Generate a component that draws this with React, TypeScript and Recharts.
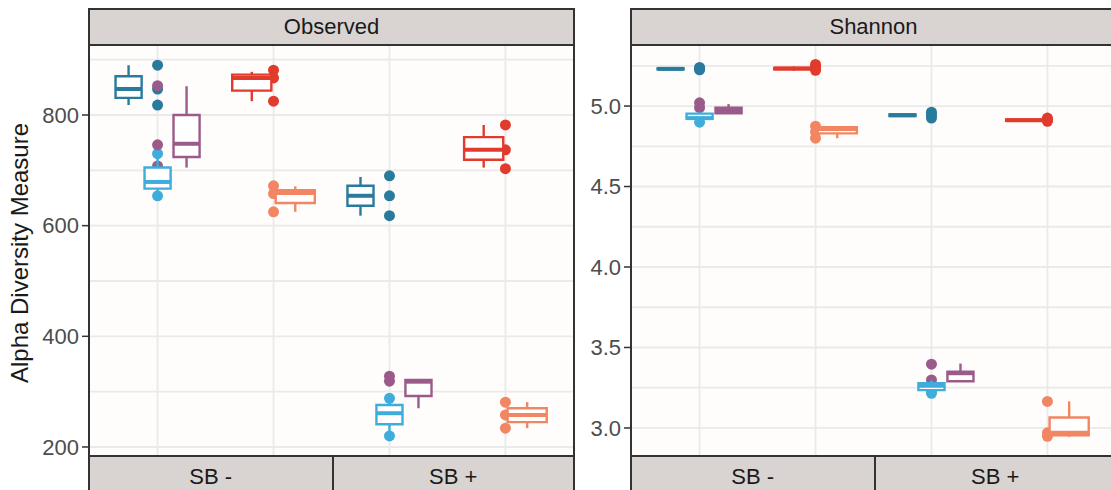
import React from 'react';
import {
  ComposedChart, Scatter, XAxis, YAxis, CartesianGrid, ReferenceArea, ReferenceLine
} from 'recharts';

const FONT = '"Liberation Sans", Arial, Helvetica, sans-serif';

// x categories of each panel (SB - has two, SB + has two)
const xCats = ['SB - 1', 'SB - 2', 'SB + 1', 'SB + 2'];
// which groups are dodged inside every category, left to right
const catGroups = [['A', 'B', 'C'], ['D', 'E'], ['A', 'B', 'C'], ['D', 'E']];
const groupKeys = ['A', 'B', 'C', 'D', 'E'];

const COLORS: Record<string, string> = {
  A: '#287b9d',
  B: '#3faddc',
  C: '#9b5b8a',
  D: '#e03b2c',
  E: '#f28663',
};

// [category, group, min, q1, median, q3, max]
const observedBoxes: [string, string, number, number, number, number, number][] = [
  ['SB - 1', 'A', 818, 831, 847, 870, 890],
  ['SB - 1', 'B', 654, 667, 679, 705, 730],
  ['SB - 1', 'C', 705, 724, 748, 800, 852],
  ['SB - 2', 'D', 825, 844, 867, 873, 878],
  ['SB - 2', 'E', 625, 641, 659, 664, 671],
  ['SB + 1', 'A', 618, 636, 654, 672, 688],
  ['SB + 1', 'B', 220, 241, 261, 276, 288],
  ['SB + 1', 'C', 270, 292, 318, 321, 323],
  ['SB + 2', 'D', 705, 719, 737, 760, 782],
  ['SB + 2', 'E', 234, 245, 258, 270, 281],
];

// [category, group, value]
const observedPoints: [string, string, number][] = [
  ['SB - 1', 'A', 890], ['SB - 1', 'A', 847], ['SB - 1', 'A', 818],
  ['SB - 1', 'B', 730], ['SB - 1', 'B', 654],
  ['SB - 1', 'C', 853], ['SB - 1', 'C', 746], ['SB - 1', 'C', 708],
  ['SB - 2', 'D', 881], ['SB - 2', 'D', 867], ['SB - 2', 'D', 825],
  ['SB - 2', 'E', 672], ['SB - 2', 'E', 658], ['SB - 2', 'E', 625],
  ['SB + 1', 'A', 690], ['SB + 1', 'A', 654], ['SB + 1', 'A', 618],
  ['SB + 1', 'B', 288], ['SB + 1', 'B', 220],
  ['SB + 1', 'C', 328], ['SB + 1', 'C', 319],
  ['SB + 2', 'D', 782], ['SB + 2', 'D', 737], ['SB + 2', 'D', 703],
  ['SB + 2', 'E', 281], ['SB + 2', 'E', 258], ['SB + 2', 'E', 234],
];

const shannonBoxes: [string, string, number, number, number, number, number][] = [
  ['SB - 1', 'A', 5.225, 5.228, 5.231, 5.234, 5.237],
  ['SB - 1', 'B', 4.895, 4.92, 4.925, 4.953, 4.96],
  ['SB - 1', 'C', 4.95, 4.955, 4.975, 4.99, 5.012],
  ['SB - 2', 'D', 5.22, 5.229, 5.233, 5.237, 5.245],
  ['SB - 2', 'E', 4.80, 4.83, 4.857, 4.868, 4.87],
  ['SB + 1', 'A', 4.935, 4.938, 4.943, 4.948, 4.95],
  ['SB + 1', 'B', 3.215, 3.235, 3.262, 3.278, 3.295],
  ['SB + 1', 'C', 3.288, 3.29, 3.34, 3.35, 3.40],
  ['SB + 2', 'D', 4.905, 4.908, 4.912, 4.916, 4.92],
  ['SB + 2', 'E', 2.945, 2.955, 2.97, 3.065, 3.165],
];

const shannonPoints: [string, string, number][] = [
  ['SB - 1', 'A', 5.24], ['SB - 1', 'A', 5.232], ['SB - 1', 'A', 5.225],
  ['SB - 1', 'B', 4.90],
  ['SB - 1', 'C', 5.02], ['SB - 1', 'C', 4.99],
  ['SB - 2', 'D', 5.258], ['SB - 2', 'D', 5.24], ['SB - 2', 'D', 5.222],
  ['SB - 2', 'E', 4.875], ['SB - 2', 'E', 4.84], ['SB - 2', 'E', 4.80],
  ['SB + 1', 'A', 4.962], ['SB + 1', 'A', 4.943], ['SB + 1', 'A', 4.925],
  ['SB + 1', 'B', 3.225], ['SB + 1', 'B', 3.215],
  ['SB + 1', 'C', 3.396], ['SB + 1', 'C', 3.298],
  ['SB + 2', 'D', 4.925], ['SB + 2', 'D', 4.915], ['SB + 2', 'D', 4.905],
  ['SB + 2', 'E', 3.165], ['SB + 2', 'E', 2.97], ['SB + 2', 'E', 2.948],
];

const observedTicks = [200, 400, 600, 800];
const observedGrid = [200, 300, 400, 500, 600, 700, 800, 900];
const shannonTicks = [3.0, 3.5, 4.0, 4.5, 5.0];
const shannonGrid = [3.0, 3.25, 3.5, 3.75, 4.0, 4.25, 4.5, 4.75, 5.0, 5.25];

const bottomLabels = ['SB -', 'SB +'];

const PLOT_TOP = 46;
const PLOT_H = 409;
const PLOT_W = 487;
const MT = 10;

function toBoxes(rows: [string, string, number, number, number, number, number][]) {
  return rows.map(([cat, grp, min, q1, med, q3, max]) => {
    const ci = xCats.indexOf(cat);
    const members = catGroups[ci];
    const k = members.length;
    const slot = 0.75 / k;
    const center = ci + 1 + (members.indexOf(grp) - (k - 1) / 2) * slot;
    const half = (slot * 0.9) / 2;
    return { center, half, min, q1, med, q3, max, color: COLORS[grp] };
  });
}

function toPoints(rows: [string, string, number][], grp: string) {
  return rows
    .filter((r) => r[1] === grp)
    .map(([cat, , v]) => ({ x: xCats.indexOf(cat) + 1, y: v }));
}

interface PanelProps {
  left: number;
  axisWidth: number;
  title: string;
  domain: [number, number];
  ticks: number[];
  grid: number[];
  boxRows: [string, string, number, number, number, number, number][];
  pointRows: [string, string, number][];
  fmt: (v: number) => string;
}

const Panel: React.FC<PanelProps> = ({ left, axisWidth, title, domain, ticks, grid, boxRows, pointRows, fmt }) => {
  const boxes = toBoxes(boxRows);
  const plotLeft = left + axisWidth;
  const refs: React.ReactNode[] = [];
  boxes.forEach((b, i) => {
    refs.push(
      <ReferenceLine key={`wl${i}`} segment={[{ x: b.center, y: b.min }, { x: b.center, y: b.q1 }]}
        stroke={b.color} strokeWidth={2.4} zIndex={700} />
    );
    refs.push(
      <ReferenceLine key={`wh${i}`} segment={[{ x: b.center, y: b.q3 }, { x: b.center, y: b.max }]}
        stroke={b.color} strokeWidth={2.4} zIndex={700} />
    );
    refs.push(
      <ReferenceArea key={`bx${i}`} x1={b.center - b.half} x2={b.center + b.half} y1={b.q1} y2={b.q3}
        fill="#ffffff" fillOpacity={1} stroke={b.color} strokeWidth={2.4} zIndex={710} />
    );
    refs.push(
      <ReferenceLine key={`md${i}`} segment={[{ x: b.center - b.half, y: b.med }, { x: b.center + b.half, y: b.med }]}
        stroke={b.color} strokeWidth={4} zIndex={720} />
    );
  });

  return (
    <>
      <div style={{ position: 'absolute', left, top: PLOT_TOP - MT }}>
        <ComposedChart width={axisWidth + PLOT_W + 1} height={PLOT_H + 2 * MT}
          margin={{ top: MT, right: 1, bottom: MT, left: 0 }}>
          <CartesianGrid stroke="#eaeaea" strokeWidth={1.8} fill="#fefdfc"
            horizontalValues={grid} verticalValues={[1, 2, 3, 4]} />
          <XAxis type="number" dataKey="x" domain={[0.4, 4.6]} hide allowDataOverflow />
          <YAxis type="number" dataKey="y" domain={domain} ticks={ticks} interval={0} allowDataOverflow
            width={axisWidth} axisLine={false} tickSize={6} tickMargin={3}
            tickLine={{ stroke: '#333333', strokeWidth: 1.5 }}
            tick={{ fill: '#4d4d4d', fontSize: 22, fontFamily: FONT }}
            tickFormatter={fmt} />
          {groupKeys.map((g) => (
            <Scatter key={g} data={toPoints(pointRows, g)} dataKey="y" fill={COLORS[g]}
              isAnimationActive={false}
              shape={(p: any) => <circle cx={p.cx} cy={p.cy} r={5.5} fill={COLORS[g]} />} />
          ))}
          {refs}
        </ComposedChart>
      </div>
      {/* top strip */}
      <div style={{
        position: 'absolute', left: plotLeft, top: 8, width: PLOT_W, height: PLOT_TOP - 8,
        boxSizing: 'border-box', background: '#d9d4d1', border: '2px solid #333',
        display: 'flex', alignItems: 'center', justifyContent: 'center',
        fontFamily: FONT, fontSize: 22, color: '#1a1a1a',
      }}>{title}</div>
      {/* panel border */}
      <div style={{
        position: 'absolute', left: plotLeft, top: PLOT_TOP - 2, width: PLOT_W, height: PLOT_H + 4,
        boxSizing: 'border-box', borderLeft: '2px solid #333', borderRight: '2px solid #333',
        pointerEvents: 'none',
      }} />
      {/* bottom strips */}
      {bottomLabels.map((lab, i) => (
        <div key={lab} style={{
          position: 'absolute', left: plotLeft + (i * PLOT_W) / 2, top: PLOT_TOP + PLOT_H,
          width: PLOT_W / 2, height: 42, boxSizing: 'border-box', background: '#d9d4d1',
          borderTop: '2px solid #333', borderLeft: '2px solid #333',
          borderRight: i === 1 ? '2px solid #333' : 'none',
          display: 'flex', alignItems: 'center', justifyContent: 'center',
          fontFamily: FONT, fontSize: 22, color: '#1a1a1a',
        }}>{lab}</div>
      ))}
    </>
  );
};

export default function App() {
  return (
    <div style={{
      position: 'absolute', left: 0, top: 0, width: 1111, height: 490,
      overflow: 'hidden', background: '#ffffff',
    }}>
      <div style={{
        position: 'absolute', left: 20, top: 253, transform: 'translate(-50%, -50%) rotate(-90deg)',
        whiteSpace: 'nowrap', fontFamily: FONT, fontSize: 24, color: '#1a1a1a',
      }}>Alpha Diversity Measure</div>
      <Panel left={0} axisWidth={88} title="Observed" domain={[185.5, 924.7]}
        ticks={observedTicks} grid={observedGrid} boxRows={observedBoxes} pointRows={observedPoints}
        fmt={(v) => String(v)} />
      <Panel left={560} axisWidth={70} title="Shannon" domain={[2.832, 5.373]}
        ticks={shannonTicks} grid={shannonGrid} boxRows={shannonBoxes} pointRows={shannonPoints}
        fmt={(v) => v.toFixed(1)} />
    </div>
  );
}
